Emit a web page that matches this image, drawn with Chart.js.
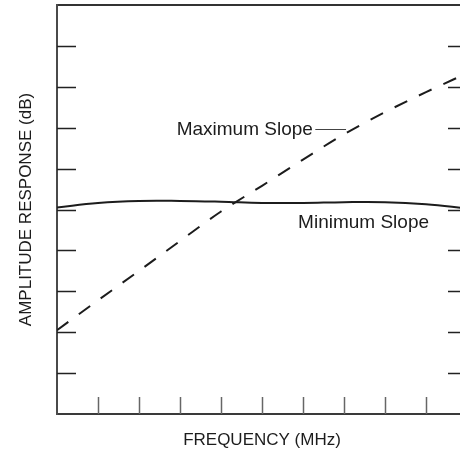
<!DOCTYPE html>
<html>
<head>
<meta charset="utf-8">
<script src="https://cdn.jsdelivr.net/npm/chart.js@4/dist/chart.umd.min.js"></script>
<style>
  html, body { margin: 0; padding: 0; background: #fff; overflow: hidden; }
  #wrap { width: 460px; height: 453px; overflow: hidden; }
</style>
</head>
<body>
<div id="wrap"><canvas id="chart" width="470" height="453"></canvas></div>
<script>
// Data (arbitrary units, 10 divisions each way)
const freq = [0, 1, 2, 3, 4, 5, 6, 7, 8, 9, 10];
const maxSlope = [2.05, 2.78, 3.50, 4.23, 4.95, 5.58, 6.22, 6.84, 7.38, 7.87, 8.33];
const minSlope = [5.05, 5.16, 5.21, 5.21, 5.19, 5.16, 5.16, 5.18, 5.18, 5.13, 5.03];
const tickValues = [1, 2, 3, 4, 5, 6, 7, 8, 9];

const FONT = '"Liberation Sans", Arial, Helvetica, sans-serif';
const INK = '#1c1c1c';

// Inward tick marks + curve labels
const decorPlugin = {
    id: 'decor',
    afterDraw(chart) {
        const ctx = chart.ctx;
        const area = chart.chartArea;
        const xs = chart.scales.x;
        const ys = chart.scales.y;

        ctx.save();
        // y ticks, left and right
        ctx.strokeStyle = '#222';
        ctx.lineWidth = 1.5;
        tickValues.forEach(v => {
            const py = Math.round(ys.getPixelForValue(v)) + 0.5;
            ctx.beginPath();
            ctx.moveTo(area.left, py);
            ctx.lineTo(area.left + 19, py);
            ctx.moveTo(area.right - 19, py);
            ctx.lineTo(area.right, py);
            ctx.stroke();
        });
        // x ticks, bottom
        ctx.strokeStyle = '#666';
        tickValues.forEach(v => {
            const px = Math.round(xs.getPixelForValue(v)) + 0.5;
            ctx.beginPath();
            ctx.moveTo(px, area.bottom);
            ctx.lineTo(px, area.bottom - 17);
            ctx.stroke();
        });

        // labels
        ctx.fillStyle = INK;
        ctx.font = '19px ' + FONT;
        ctx.textBaseline = 'alphabetic';
        ctx.textAlign = 'right';
        ctx.fillText('Maximum Slope', xs.getPixelForValue(6.24), ys.getPixelForValue(6.82));
        ctx.textAlign = 'left';
        ctx.fillText('Minimum Slope', xs.getPixelForValue(5.88), ys.getPixelForValue(4.55));

        // leader line from label to the dashed curve
        ctx.strokeStyle = '#444';
        ctx.lineWidth = 1;
        const ly = Math.round(ys.getPixelForValue(6.97)) + 0.5;
        ctx.beginPath();
        ctx.moveTo(xs.getPixelForValue(6.3), ly);
        ctx.lineTo(xs.getPixelForValue(7.05), ly);
        ctx.stroke();
        ctx.restore();
    }
};

const ctx = document.getElementById('chart').getContext('2d');
new Chart(ctx, {
    type: 'line',
    data: {
        datasets: [{
            label: 'Maximum Slope',
            data: freq.map((f, i) => ({ x: f, y: maxSlope[i] })),
            borderColor: INK,
            borderWidth: 2,
            borderDash: [14, 13],
            pointRadius: 0,
            cubicInterpolationMode: 'monotone',
            fill: false
        }, {
            label: 'Minimum Slope',
            data: freq.map((f, i) => ({ x: f, y: minSlope[i] })),
            borderColor: INK,
            borderWidth: 2,
            pointRadius: 0,
            tension: 0.4,
            fill: false
        }]
    },
    options: {
        responsive: false,
        animation: false,
        layout: { padding: 0 },
        plugins: {
            legend: { display: false },
            tooltip: { enabled: false }
        },
        scales: {
            x: {
                type: 'linear',
                position: 'bottom',
                min: 0,
                max: 10,
                ticks: { display: false, stepSize: 1 },
                grid: { drawOnChartArea: false, drawTicks: false },
                border: { display: true, color: '#3a3a3a', width: 2 },
                title: {
                    display: true,
                    text: 'FREQUENCY (MHz)',
                    color: INK,
                    font: { family: FONT, size: 17 },
                    padding: { top: 0, bottom: 2 }
                },
                afterFit: s => { s.height = 39; }
            },
            xTop: {
                type: 'linear',
                position: 'top',
                min: 0,
                max: 10,
                ticks: { display: false },
                grid: { drawOnChartArea: false, drawTicks: false },
                border: { display: true, color: '#333', width: 2 },
                afterFit: s => { s.height = 5; }
            },
            y: {
                type: 'linear',
                position: 'left',
                min: 0,
                max: 10,
                ticks: { display: false, stepSize: 1 },
                grid: { drawOnChartArea: false, drawTicks: false },
                border: { display: true, color: '#4a4a4a', width: 2 },
                title: {
                    display: true,
                    text: 'AMPLITUDE RESPONSE (dB)',
                    color: INK,
                    font: { family: FONT, size: 17 },
                    padding: { top: 16, bottom: 0 }
                },
                afterFit: s => { s.width = 57; }
            },
            yRight: {
                type: 'linear',
                position: 'right',
                min: 0,
                max: 10,
                ticks: { display: false },
                grid: { drawOnChartArea: false, drawTicks: false },
                border: { display: true, color: '#333', width: 2 },
                afterFit: s => { s.width = 3; }
            }
        }
    },
    plugins: [decorPlugin]
});
</script>
</body>
</html>
